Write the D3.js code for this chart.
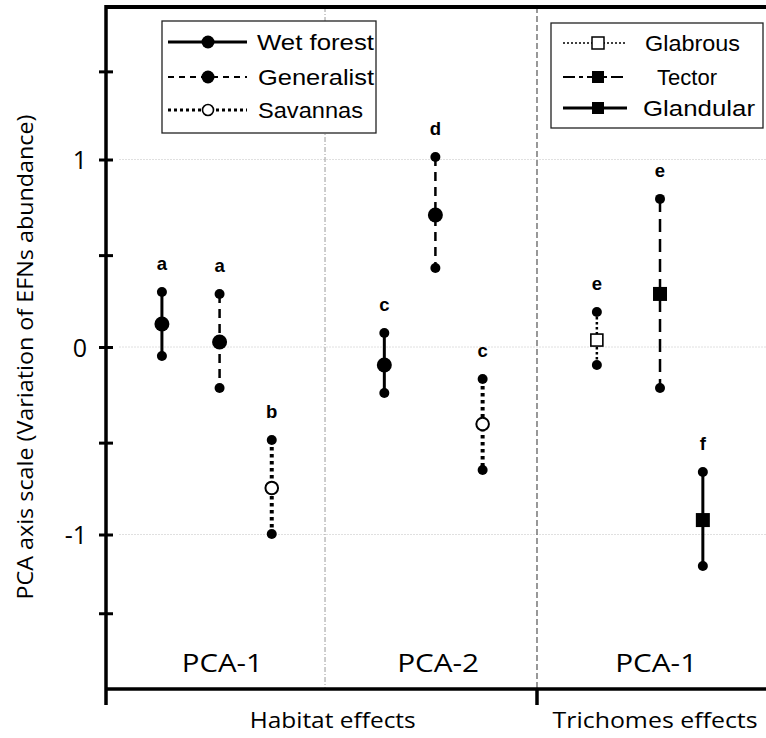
<!DOCTYPE html>
<html>
<head>
<meta charset="utf-8">
<script src="https://cdn.jsdelivr.net/npm/d3@7"></script>
<style>
  html, body { margin: 0; padding: 0; background: #fff; }
  svg { display: block; }
</style>
</head>
<body>
<svg id="chart" width="766" height="738"></svg>
<script>
// ---- data ----
const groups = ["Habitat PCA-1", "Habitat PCA-2", "Trichomes PCA-1"];
const series = ["Wet forest", "Generalist", "Savannas", "Glabrous", "Tector", "Glandular"];

// one row per plotted estimate: group, series, position on category axis, mean, upper, lower, letter
const pointGroup  = [0, 0, 0, 1, 1, 1, 2, 2, 2];
const pointSeries = [0, 1, 2, 0, 1, 2, 3, 4, 5];
const pointSlot   = [1.0, 2.05, 3.0, 5.05, 5.98, 6.84, 8.92, 10.07, 10.85];
const meanValues  = [0.123, 0.027, -0.752, -0.096, 0.704, -0.411, 0.037, 0.283, -0.923];
const upperValues = [0.293, 0.283, -0.496, 0.075, 1.013, -0.171, 0.187, 0.790, -0.667];
const lowerValues = [-0.048, -0.219, -0.997, -0.245, 0.421, -0.656, -0.096, -0.219, -1.168];
const letters     = ["a", "a", "b", "c", "d", "c", "e", "e", "f"];

const majorTicks = [-1, 0, 1];
const minorTicks = [1.47, 0.49, -0.51, -1.42];
const groupLabels = ["PCA-1", "PCA-2", "PCA-1"];
const groupLabelSlot = [2.1, 6.03, 10.0];
const effectLabels = ["Habitat effects", "Trichomes effects"];
const effectLabelSlot = [4.11, 9.98];
const dividerSlot = [3.97, 7.83];
const yLabel = "PCA axis scale (Variation of EFNs abundance)";

// ---- styles per series ----
const lineStyle = {
  "Wet forest": { w: 3,   dash: null },
  "Generalist": { w: 2.5, dash: "9 6" },
  "Savannas":   { w: 4,   dash: "3.5 3.5" },
  "Glabrous":   { w: 2.5, dash: "2.5 2.5" },
  "Tector":     { w: 2.5, dash: "13 7" },
  "Glandular":  { w: 3,   dash: null }
};
const markerStyle = {
  "Wet forest": { shape: "circle", fill: "#000", r: 7.5 },
  "Generalist": { shape: "circle", fill: "#000", r: 7.5 },
  "Savannas":   { shape: "circle", fill: "#fff", r: 6.3 },
  "Glabrous":   { shape: "square", fill: "#fff", s: 12 },
  "Tector":     { shape: "square", fill: "#000", s: 14 },
  "Glandular":  { shape: "square", fill: "#000", s: 14 }
};

// ---- scales ----
const svg = d3.select("#chart");
const x = d3.scaleLinear().domain([0, 12]).range([107, 766]);
const y = d3.scaleLinear().domain([-1, 1]).range([534.5, 159.5]);
const yTop = 7, yBottom = 689, xLeft = 106;

// grid lines
svg.append("g").selectAll("line").data(majorTicks).join("line")
  .attr("x1", 119).attr("x2", 766)
  .attr("y1", d => y(d)).attr("y2", d => y(d))
  .attr("stroke", "#e0e0e0").attr("stroke-width", 1)
  .attr("stroke-dasharray", "2 1");

// section dividers
svg.append("line")
  .attr("x1", x(dividerSlot[0])).attr("x2", x(dividerSlot[0]))
  .attr("y1", yTop).attr("y2", yBottom)
  .attr("stroke", "#9a9a9a").attr("stroke-width", 1)
  .attr("stroke-dasharray", "5 2 1 2");
svg.append("line")
  .attr("x1", x(dividerSlot[1])).attr("x2", x(dividerSlot[1]))
  .attr("y1", yTop).attr("y2", yBottom)
  .attr("stroke", "#555").attr("stroke-width", 1.2)
  .attr("stroke-dasharray", "6 3");
svg.append("line")
  .attr("x1", x(dividerSlot[1])).attr("x2", x(dividerSlot[1]))
  .attr("y1", yBottom).attr("y2", 705)
  .attr("stroke", "#000").attr("stroke-width", 3.5);

// frame: top border and bottom axis
svg.append("line").attr("x1", xLeft).attr("x2", 766).attr("y1", yTop).attr("y2", yTop)
  .attr("stroke", "#000").attr("stroke-width", 4);
svg.append("line").attr("x1", xLeft).attr("x2", 766).attr("y1", yBottom).attr("y2", yBottom)
  .attr("stroke", "#000").attr("stroke-width", 3.5);

// y axis
const yAxis = d3.axisLeft(y)
  .tickValues(majorTicks.concat(minorTicks))
  .tickSize(7)
  .tickFormat(d => majorTicks.includes(d) ? (d < 0 ? "-" + Math.abs(d) : String(d)) : "");
const gy = svg.append("g").attr("transform", `translate(${xLeft},0)`).call(yAxis);
gy.select(".domain").remove();
gy.selectAll(".tick line").attr("x1", -7).attr("x2", 7)
  .attr("stroke", "#000").attr("stroke-width", 3);
gy.selectAll(".tick text")
  .attr("x", -19).attr("dy", "0.36em")
  .attr("font-family", "'Open Sans', sans-serif").attr("font-size", 25).attr("fill", "#000");
svg.append("line").attr("x1", xLeft).attr("x2", xLeft).attr("y1", yTop - 2).attr("y2", 705)
  .attr("stroke", "#000").attr("stroke-width", 3.5);

// y axis title
svg.append("text")
  .attr("transform", `translate(33,357) rotate(-90)`)
  .attr("text-anchor", "middle")
  .attr("font-family", "'Open Sans', sans-serif").attr("font-size", 21)
  .attr("textLength", 485).attr("lengthAdjust", "spacingAndGlyphs")
  .text(yLabel);

// group labels and effect labels
const glWidths = [81, 82, 82];
svg.append("g").selectAll("text").data(groupLabels).join("text")
  .attr("x", (d, i) => x(groupLabelSlot[i])).attr("y", 672)
  .attr("text-anchor", "middle")
  .attr("font-family", "'Open Sans', sans-serif").attr("font-size", 26)
  .attr("textLength", (d, i) => glWidths[i]).attr("lengthAdjust", "spacingAndGlyphs")
  .text(d => d);
const elWidths = [166, 205];
svg.append("g").selectAll("text").data(effectLabels).join("text")
  .attr("x", (d, i) => x(effectLabelSlot[i])).attr("y", 728)
  .attr("text-anchor", "middle")
  .attr("font-family", "'Open Sans', sans-serif").attr("font-size", 22)
  .attr("textLength", (d, i) => elWidths[i]).attr("lengthAdjust", "spacingAndGlyphs")
  .text(d => d);

// marker drawing helper
function drawMarker(g, cx, cy, name) {
  const m = markerStyle[name];
  if (m.shape === "circle") {
    g.append("circle").attr("cx", cx).attr("cy", cy).attr("r", m.r)
      .attr("fill", m.fill).attr("stroke", "#000").attr("stroke-width", m.fill === "#fff" ? 2 : 0);
  } else {
    g.append("rect").attr("x", cx - m.s / 2).attr("y", cy - m.s / 2)
      .attr("width", m.s).attr("height", m.s)
      .attr("fill", m.fill).attr("stroke", "#000").attr("stroke-width", m.fill === "#fff" ? 1.6 : 0);
  }
}

// estimates with intervals
const marks = svg.append("g");
pointSlot.forEach((slot, i) => {
  const name = series[pointSeries[i]];
  const ls = lineStyle[name];
  const cx = x(slot);
  const g = marks.append("g");
  g.append("line")
    .attr("x1", cx).attr("x2", cx)
    .attr("y1", y(upperValues[i])).attr("y2", y(lowerValues[i]))
    .attr("stroke", "#000").attr("stroke-width", ls.w)
    .attr("stroke-dasharray", ls.dash);
  [upperValues[i], lowerValues[i]].forEach(v => {
    g.append("circle").attr("cx", cx).attr("cy", y(v)).attr("r", 5).attr("fill", "#000");
  });
  drawMarker(g, cx, y(meanValues[i]), name);
  g.append("text")
    .attr("x", cx).attr("y", y(upperValues[i]) - 22)
    .attr("text-anchor", "middle")
    .attr("font-family", "'Liberation Sans', Arial, sans-serif")
    .attr("font-weight", "bold").attr("font-size", 18.5)
    .text(letters[i]);
});

// legends
const legendDefs = [
  { box: [162, 21, 214, 112], items: series.slice(0, 3), rows: [42, 77, 110],
    line: [168, 247], mark: 208, textX: [257, 258, 258], widths: [117, 116, 105],
    dashes: [null, "6 5", "3 3"], widthsLine: [3, 2, 3] },
  { box: [551, 23, 212, 105], items: series.slice(3), rows: [43, 77, 108],
    line: [563, 627], mark: 598, textX: [645, 657, 643], widths: [95, 60, 112],
    dashes: ["2 2", "12 4 4 4", null], widthsLine: [1.5, 2, 3] }
];
const legendMarker = {
  "Wet forest": { shape: "circle", fill: "#000", r: 6.5 },
  "Generalist": { shape: "circle", fill: "#000", r: 6.5 },
  "Savannas":   { shape: "circle", fill: "#fff", r: 5.5 },
  "Glabrous":   { shape: "square", fill: "#fff", s: 12 },
  "Tector":     { shape: "square", fill: "#000", s: 12 },
  "Glandular":  { shape: "square", fill: "#000", s: 12 }
};
legendDefs.forEach(L => {
  const g = svg.append("g");
  g.append("rect").attr("x", L.box[0]).attr("y", L.box[1])
    .attr("width", L.box[2]).attr("height", L.box[3])
    .attr("fill", "#fff").attr("stroke", "#222").attr("stroke-width", 1.3);
  L.items.forEach((name, k) => {
    const cy = L.rows[k];
    g.append("line").attr("x1", L.line[0]).attr("x2", L.line[1])
      .attr("y1", cy).attr("y2", cy)
      .attr("stroke", "#000").attr("stroke-width", L.widthsLine[k])
      .attr("stroke-dasharray", L.dashes[k]);
    const m = legendMarker[name];
    if (m.shape === "circle") {
      g.append("circle").attr("cx", L.mark).attr("cy", cy).attr("r", m.r)
        .attr("fill", m.fill).attr("stroke", "#000").attr("stroke-width", m.fill === "#fff" ? 1.6 : 0);
    } else {
      g.append("rect").attr("x", L.mark - m.s / 2).attr("y", cy - m.s / 2)
        .attr("width", m.s).attr("height", m.s)
        .attr("fill", m.fill).attr("stroke", "#000").attr("stroke-width", m.fill === "#fff" ? 1.5 : 0);
    }
    g.append("text").attr("x", L.textX[k]).attr("y", cy + 8)
      .attr("font-family", "'Liberation Sans', Arial, sans-serif").attr("font-size", 22)
      .attr("textLength", L.widths[k]).attr("lengthAdjust", "spacingAndGlyphs")
      .text(name);
  });
});
</script>
</body>
</html>
